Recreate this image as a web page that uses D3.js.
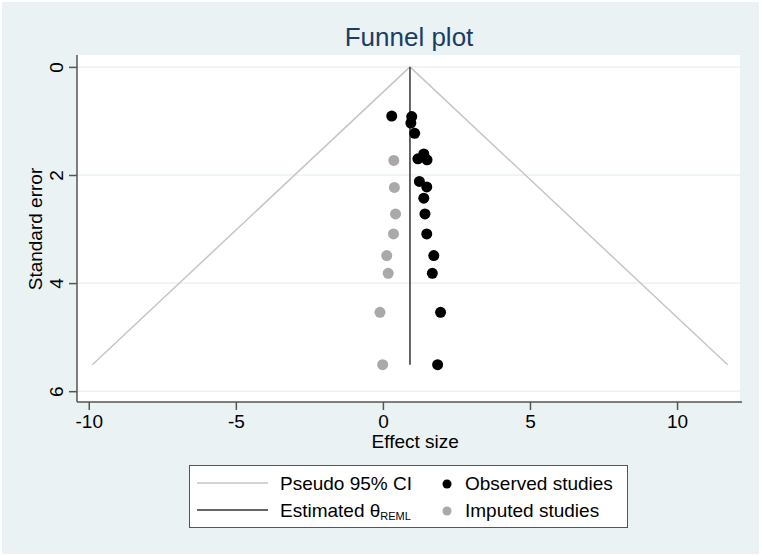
<!DOCTYPE html>
<html>
<head>
<meta charset="utf-8">
<script src="https://cdn.jsdelivr.net/npm/d3@7"></script>
<style>
  body { margin: 0; background: #fff; }
  svg { display: block; font-family: "Liberation Sans", Arial, sans-serif; }
</style>
</head>
<body>
<div id="chart"></div>
<script>
// observed studies (effect size, standard error)
var observedES = [0.30, 0.98, 0.95, 1.08, 1.19, 1.39, 1.50, 1.24, 1.49, 1.39, 1.43, 1.49, 1.73, 1.68, 1.96, 1.86];
var observedSE = [0.91, 0.92, 1.04, 1.23, 1.70, 1.61, 1.72, 2.12, 2.22, 2.43, 2.72, 3.09, 3.49, 3.82, 4.54, 5.51];
// imputed studies (trim and fill)
var imputedES = [0.37, 0.39, 0.43, 0.36, 0.13, 0.18, -0.10, -0.01];
var imputedSE = [1.73, 2.23, 2.72, 3.09, 3.49, 3.82, 4.54, 5.51];
var theta = 0.92;
var maxSE = 5.51;
var xTicks = [-10, -5, 0, 5, 10];
var yTicks = [0, 2, 4, 6];

var width = 762, height = 556;
var plotL = 77, plotR = 740, plotT = 55, plotB = 402;

var svg = d3.select("#chart").append("svg")
  .attr("width", width)
  .attr("height", height);

// background
svg.append("rect").attr("x", 2).attr("y", 2)
  .attr("width", width - 5).attr("height", height - 4)
  .attr("fill", "#eaf2f3");
svg.append("rect").attr("x", plotL).attr("y", plotT)
  .attr("width", plotR - plotL).attr("height", plotB - plotT)
  .attr("fill", "#fff");

var x = d3.scaleLinear().domain([-10.4, 12.14]).range([plotL, plotR]);
var y = d3.scaleLinear().domain([-0.22, 6.2]).range([plotT, plotB]);

// gridlines
svg.selectAll(".grid").data(yTicks).enter().append("line")
  .attr("x1", plotL).attr("x2", plotR)
  .attr("y1", function(d) { return y(d); })
  .attr("y2", function(d) { return y(d); })
  .attr("stroke", "#eaf2f3").attr("stroke-width", 1.5);

// pseudo 95% CI
var ci = [[theta - 1.96 * maxSE, maxSE], [theta, 0], [theta + 1.96 * maxSE, maxSE]];
svg.append("path")
  .datum(ci)
  .attr("d", d3.line().x(function(d) { return x(d[0]); }).y(function(d) { return y(d[1]); }))
  .attr("fill", "none").attr("stroke", "#c6c6c6").attr("stroke-width", 1.5);

// estimated theta
svg.append("line")
  .attr("x1", x(theta)).attr("x2", x(theta))
  .attr("y1", y(0)).attr("y2", y(maxSE))
  .attr("stroke", "#333").attr("stroke-width", 1.5);

// points
svg.append("g").selectAll("circle").data(imputedES).enter().append("circle")
  .attr("cx", function(d) { return x(d); })
  .attr("cy", function(d, i) { return y(imputedSE[i]); })
  .attr("r", 5.5).attr("fill", "#a9a9a9");

svg.append("g").selectAll("circle").data(observedES).enter().append("circle")
  .attr("cx", function(d) { return x(d); })
  .attr("cy", function(d, i) { return y(observedSE[i]); })
  .attr("r", 5.5).attr("fill", "#000");

// axes
var fmt = function(d) { return String(d); };
var xAxis = svg.append("g")
  .attr("transform", "translate(0," + plotB + ")")
  .call(d3.axisBottom(x).tickValues(xTicks).tickSize(8).tickPadding(5).tickFormat(fmt));
var yAxis = svg.append("g")
  .attr("transform", "translate(" + plotL + ",0)")
  .call(d3.axisLeft(y).tickValues(yTicks).tickSize(8).tickPadding(6).tickFormat(fmt));

[xAxis, yAxis].forEach(function(a) {
  a.select(".domain").remove();
  a.selectAll("line").attr("stroke", "#555").attr("stroke-width", 1.5);
  a.selectAll("text").attr("fill", "#000").style("font-size", "19px")
    .style("font-family", "'Liberation Sans', Arial, sans-serif");
});
yAxis.selectAll("text")
  .attr("x", null).attr("dy", null)
  .attr("text-anchor", "middle")
  .attr("transform", "translate(-14,0) rotate(-90) translate(0,0)");

svg.append("line").attr("x1", plotL).attr("x2", plotR + 2)
  .attr("y1", plotB).attr("y2", plotB)
  .attr("stroke", "#555").attr("stroke-width", 1.5);
svg.append("line").attr("x1", plotL).attr("x2", plotL)
  .attr("y1", plotT).attr("y2", plotB)
  .attr("stroke", "#555").attr("stroke-width", 1.5);

// titles
svg.append("text").attr("x", 409).attr("y", 46)
  .attr("text-anchor", "middle").attr("fill", "#1a3d66")
  .style("font-size", "26px").text("Funnel plot");
svg.append("text").attr("x", x(1.1)).attr("y", 448)
  .attr("text-anchor", "middle").style("font-size", "19px").text("Effect size");
svg.append("text")
  .attr("transform", "translate(42," + y(3) + ") rotate(-90)")
  .attr("text-anchor", "middle").style("font-size", "19px").text("Standard error");

// legend
var lg = svg.append("g");
lg.append("rect").attr("x", 189.5).attr("y", 465.5).attr("width", 438).attr("height", 62)
  .attr("fill", "#fff").attr("stroke", "#555").attr("stroke-width", 1);
lg.append("line").attr("x1", 197).attr("x2", 268).attr("y1", 483).attr("y2", 483)
  .attr("stroke", "#c6c6c6").attr("stroke-width", 1.5);
lg.append("line").attr("x1", 197).attr("x2", 268).attr("y1", 510).attr("y2", 510)
  .attr("stroke", "#333").attr("stroke-width", 1.5);
lg.append("text").attr("x", 280).attr("y", 490).style("font-size", "19px").text("Pseudo 95% CI");
var est = lg.append("text").attr("x", 280).attr("y", 517).style("font-size", "19px");
est.append("tspan").text("Estimated θ");
est.append("tspan").attr("dy", 3).style("font-size", "11px").text("REML");
lg.append("circle").attr("cx", 447).attr("cy", 484).attr("r", 4.5).attr("fill", "#000");
lg.append("circle").attr("cx", 447).attr("cy", 511).attr("r", 4.5).attr("fill", "#a9a9a9");
lg.append("text").attr("x", 465).attr("y", 490).style("font-size", "19px").text("Observed studies");
lg.append("text").attr("x", 465).attr("y", 517).style("font-size", "19px").text("Imputed studies");
</script>
</body>
</html>
